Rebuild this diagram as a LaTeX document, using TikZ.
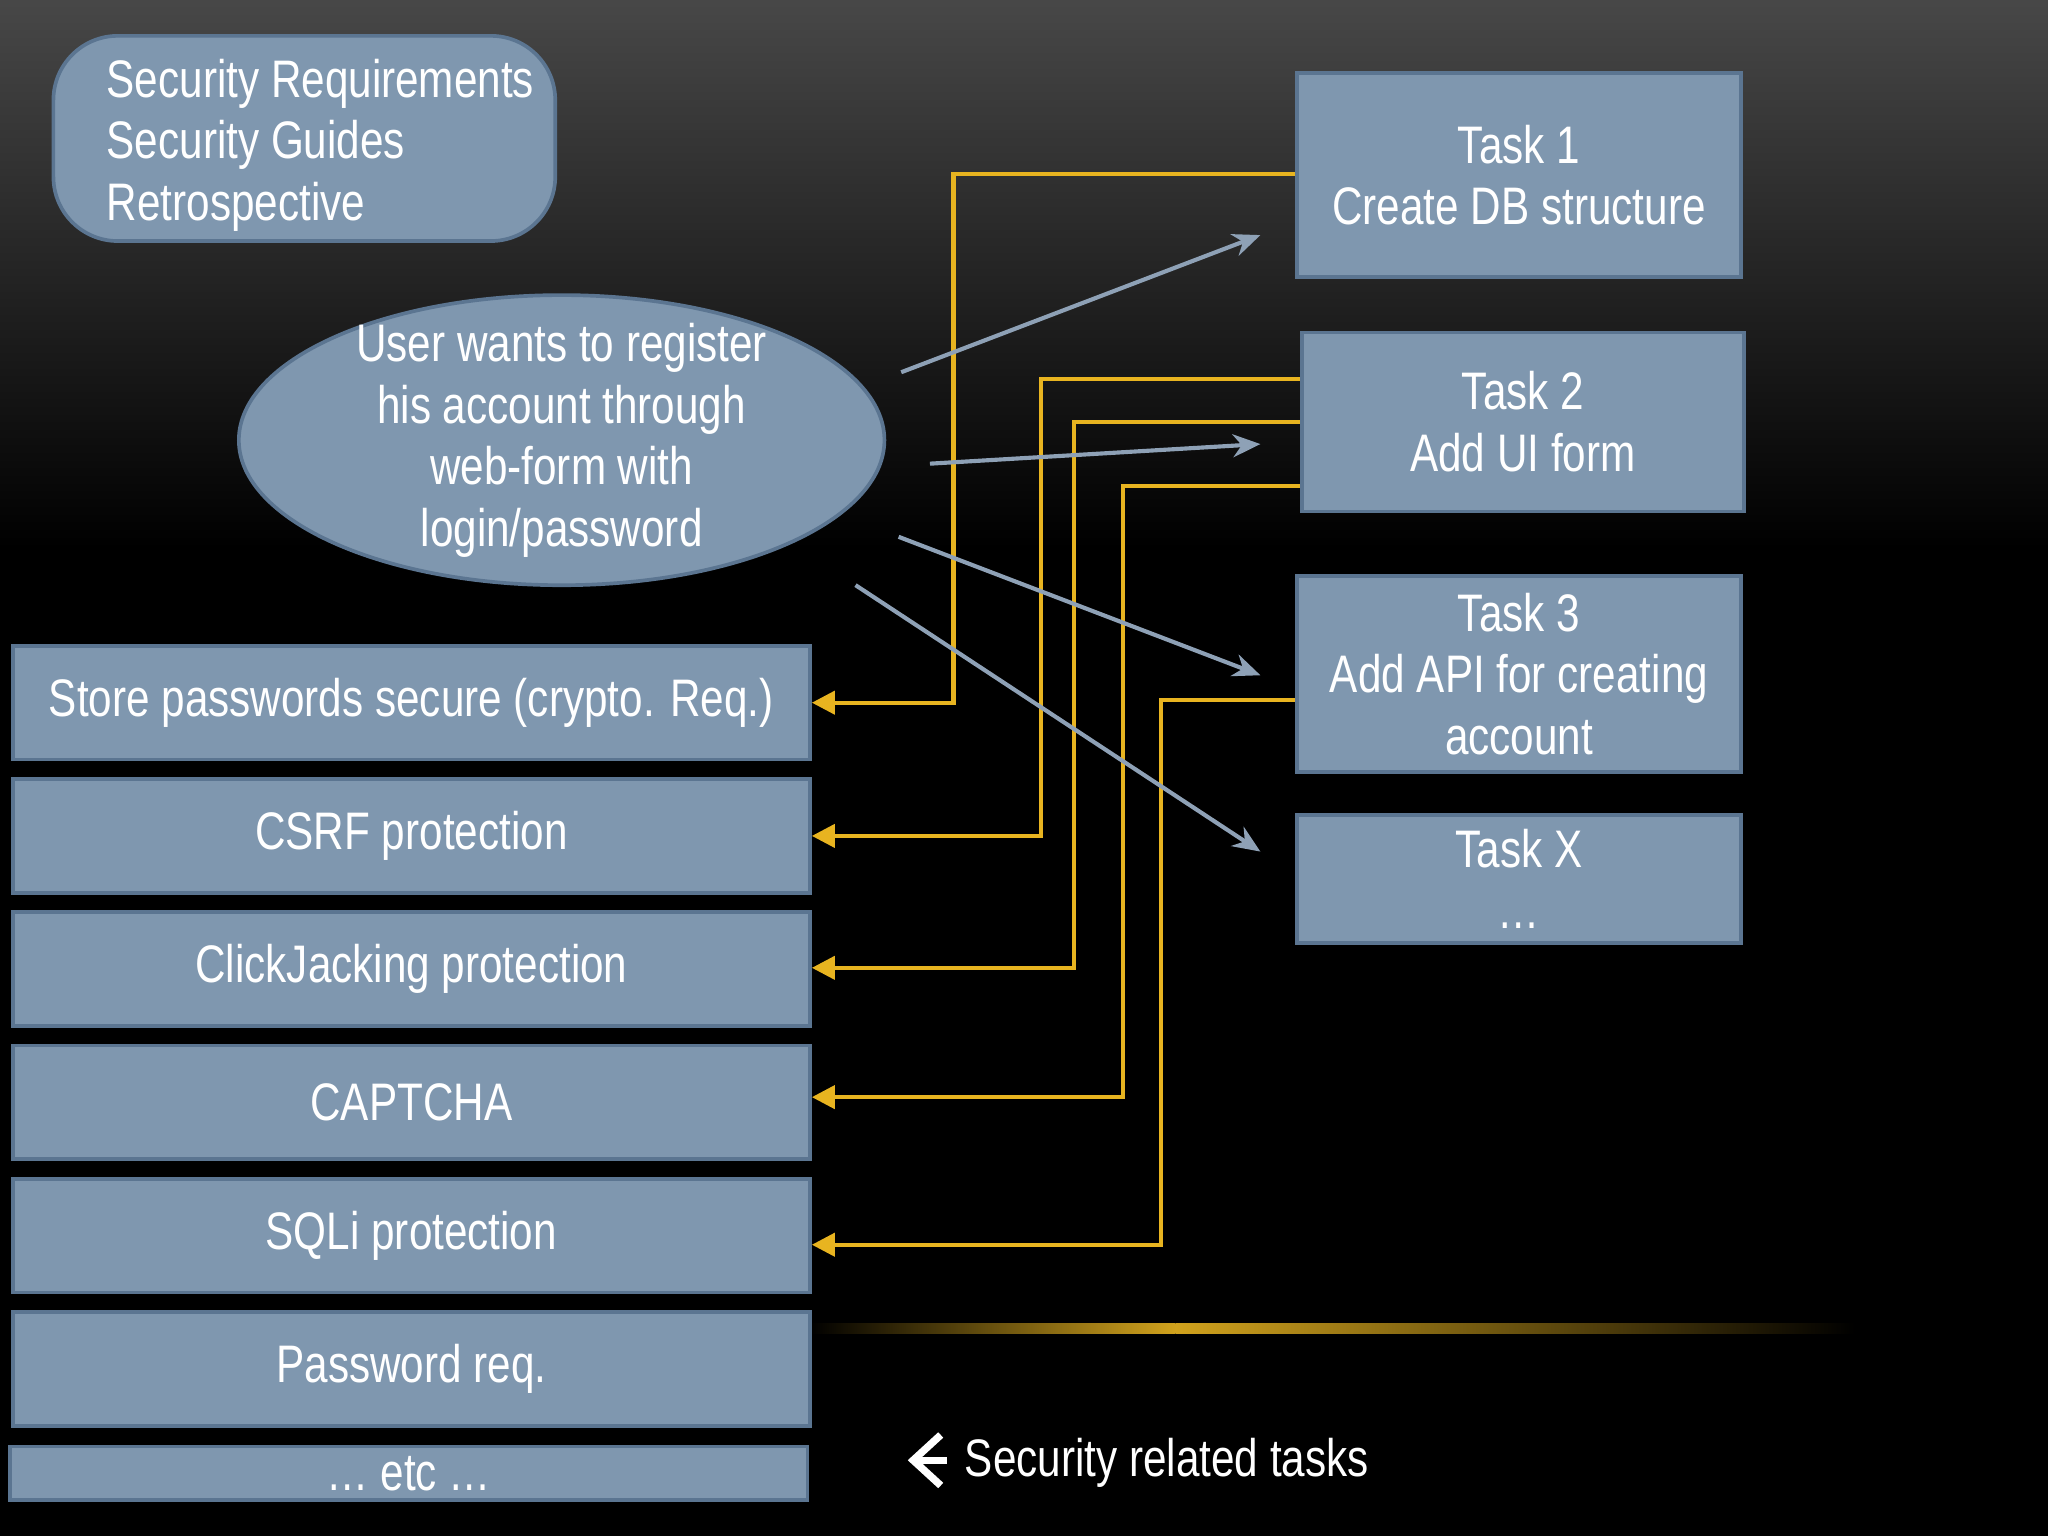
\documentclass[tikz,border=0pt]{standalone}
\usepackage{fontspec}
\setmainfont{Liberation Sans}[FakeStretch=0.8]
\usetikzlibrary{positioning,arrows.meta,calc,shapes.geometric}
\definecolor{boxfill}{HTML}{7F97AF}
\definecolor{boxline}{HTML}{5B7591}
\definecolor{wire}{HTML}{E8B420}
\definecolor{pointer}{HTML}{8EA1B6}
\begin{document}
\begin{tikzpicture}[x=0.01cm,y=-0.01cm,
    box/.style={rectangle, draw=boxline, line width=0.8pt, fill=boxfill, text=white, inner sep=0pt, align=center, font=\fontsize{11.5}{13.4}\selectfont},
    label/.style={text=white, font=\fontsize{11.5}{13.4}\selectfont},
    wirearrow/.style={-{Triangle[length=5pt,width=5pt]}, draw=wire, line width=0.9pt},
    ptr/.style={-{Stealth[length=6pt,width=5pt]}, draw=pointer, line width=0.9pt}
]
% Background
\fill[black] (0,0) rectangle (1568,1176);
\shade[top color=black!72!white, bottom color=black] (0,0) rectangle (1568,420);
\shade[left color=black, right color=wire!90!black] (620,1013) rectangle (900,1021);
\shade[right color=black, left color=wire!90!black] (900,1013) rectangle (1420,1021);
\useasboundingbox (0,0) rectangle (1568,1176);

% Top-left box
\node[box, rounded corners=14pt, minimum width=3.84cm, minimum height=1.57cm] (reqs) at (233,106) {};
\node[label, align=left, anchor=west, inner sep=0pt] (reqstext) at (81,111)
      {Security Requirements\\Security Guides\\Retrospective};

% Story
\node[box, ellipse, minimum width=4.94cm, minimum height=2.22cm] (story) at (430,337) {};
\node[label, align=center] (storytext) at (story.center)
      {User wants to register\\his account through\\web-form with\\login/password};

% Tasks
\node[box, minimum width=3.40cm, minimum height=1.56cm] (task1) at (1163,134) {Task 1\\Create DB structure};
\node[box, minimum width=3.38cm, minimum height=1.37cm] (task2) at (1166,323) {Task 2\\Add UI form};
\node[box, minimum width=3.40cm, minimum height=1.50cm] (task3) at (1163,516) {Task 3\\Add API for creating\\account};
\node[box, minimum width=3.40cm, minimum height=0.98cm] (taskx) at (1163,673) {Task X\\\dots};

% Security related tasks
\node[box, minimum width=6.10cm, minimum height=0.87cm] (store) at (315,538) {Store passwords secure (crypto. Req.)};
\node[box, minimum width=6.10cm, minimum height=0.87cm] (csrf) at (315,640) {CSRF protection};
\node[box, minimum width=6.10cm, minimum height=0.87cm] (click) at (315,742) {ClickJacking protection};
\node[box, minimum width=6.10cm, minimum height=0.87cm] (captcha) at (315,844) {CAPTCHA};
\node[box, minimum width=6.10cm, minimum height=0.87cm] (sqli) at (315,946) {SQLi protection};
\node[box, minimum width=6.10cm, minimum height=0.87cm] (pwd) at (315,1048) {Password req.};
\node[box, minimum width=6.10cm, minimum height=0.41cm] (etc) at (313,1128) {\dots\ etc \dots};

% Links from tasks to security tasks
\draw[wirearrow] (task1.west |- 0,133) -| (730,538) -- (store.east);
\draw[wirearrow] (task2.west |- 0,290) -| (797,640) -- (csrf.east);
\draw[wirearrow] (task2.west |- 0,323) -| (822,741) -- (click.east |- 0,741);
\draw[wirearrow] (task2.west |- 0,372) -| (860,840) -- (captcha.east |- 0,840);
\draw[wirearrow] (task3.west |- 0,536) -| (889,953) -- (sqli.east |- 0,953);

% Story split into tasks
\coordinate (p1) at (690,285); \coordinate (q1) at (965,180);
\coordinate (p2) at (712,355); \coordinate (q2) at (965,340);
\coordinate (p3) at (688,411); \coordinate (q3) at (965,517);
\coordinate (p4) at (655,448); \coordinate (q4) at (965,652);
\draw[ptr] (p1) -- (q1);
\draw[ptr] (p2) -- (q2);
\draw[ptr] (p3) -- (q3);
\draw[ptr] (p4) -- (q4);

% Legend
\node[label, anchor=west, inner sep=0pt] (legend) at (738,1120) {Security related tasks};
\coordinate (legarrow) at (725,1118);
\draw[white, line width=1.6pt, -{Straight Barb[length=6pt,width=11pt]}] (legarrow) -- ++(-30,0);
\end{tikzpicture}
\end{document}
